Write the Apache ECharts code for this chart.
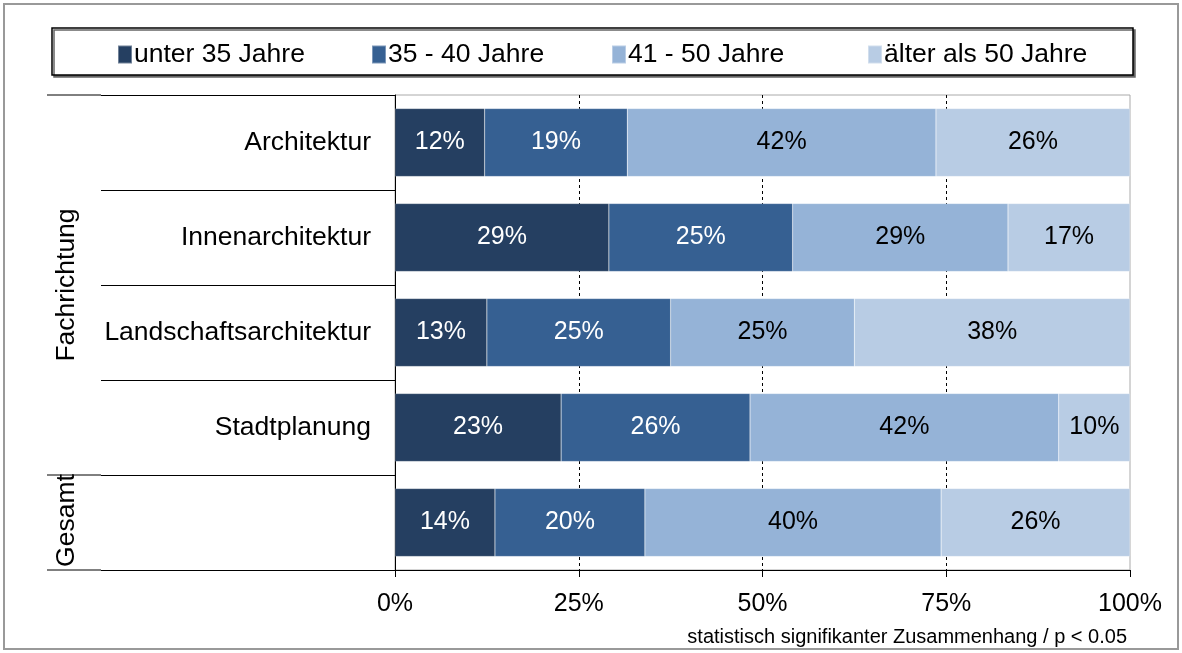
<!DOCTYPE html>
<html>
<head>
<meta charset="utf-8">
<script src="https://cdn.jsdelivr.net/npm/echarts@6/dist/echarts.min.js"></script>
<style>
  html, body { margin: 0; padding: 0; background: #fff; }
  #chart { width: 1182px; height: 653px; }
</style>
</head>
<body>
<div id="chart"></div>
<script>
// Daten
const categories = ['Architektur', 'Innenarchitektur', 'Landschaftsarchitektur', 'Stadtplanung', 'Gesamt'];
const seriesNames = ['unter 35 Jahre', '35 - 40 Jahre', '41 - 50 Jahre', 'älter als 50 Jahre'];
const unter35 = [12.2, 29.1, 12.5, 22.6, 13.6];
const von35bis40 = [19.4, 25.0, 25.0, 25.7, 20.4];
const von41bis50 = [42.0, 29.3, 25.0, 42.0, 40.3];
const ueber50 = [26.4, 16.6, 37.5, 9.7, 25.7];
const xTicks = [0, 25, 50, 75, 100];

const colors = ['#253F61', '#366092', '#95B3D7', '#B8CCE4'];
const labelColors = ['#fff', '#fff', '#000', '#000'];
const font = '"Liberation Sans", Arial, sans-serif';

// Layout des Plotbereichs
const gLeft = 395, gRight = 1130, gTop = 95, gBottom = 570;
const band = (gBottom - gTop) / categories.length;
// Legendenpositionen (wie in Excel, ungleichmäßig verteilt)
const legendLeft = [112, 366, 606, 862];

const chart = echarts.init(document.getElementById('chart'));

const values = [unter35, von35bis40, von41bis50, ueber50];
const series = values.map((arr, i) => ({
  name: seriesNames[i],
  type: 'bar',
  stack: 'total',
  barWidth: 68,
  data: arr,
  itemStyle: { color: colors[i], borderColor: 'rgba(255,255,255,0.35)', borderWidth: 0.5 },
  label: {
    show: true,
    position: 'inside',
    color: labelColors[i],
    fontSize: 25,
    fontFamily: font,
    formatter: p => Math.round(p.value) + '%'
  }
}));

const legends = seriesNames.map((name, i) => ({
  left: legendLeft[i],
  top: 36,
  itemWidth: 14,
  itemHeight: 18,
  icon: 'rect',
  textStyle: { fontSize: 26.5, color: '#000', fontFamily: font, padding: [0, 0, 0, -3] },
  data: [name]
}));

const option = {
  animation: false,
  textStyle: { fontFamily: font },
  legend: legends,
  grid: {
    left: gLeft,
    right: 1182 - gRight,
    top: gTop,
    bottom: 653 - gBottom,
    show: true,
    borderColor: '#aaa',
    borderWidth: 1
  },
  xAxis: {
    type: 'value',
    min: 0,
    max: 100,
    interval: 25,
    axisLine: { show: true, lineStyle: { color: '#000', width: 1 } },
    axisTick: { show: true, length: 7, lineStyle: { color: '#000' } },
    axisLabel: {
      fontSize: 25,
      color: '#000',
      margin: 22,
      fontFamily: font,
      formatter: v => xTicks.includes(v) ? v + '%' : ''
    },
    splitLine: {
      show: true,
      lineStyle: { color: ['transparent', '#000', '#000', '#000', 'transparent'], type: [3, 3], width: 1 }
    }
  },
  yAxis: {
    type: 'category',
    inverse: true,
    data: categories,
    axisLine: { show: true, lineStyle: { color: '#000', width: 1 } },
    axisTick: { show: true, length: 294, lineStyle: { color: '#000', width: 1 } },
    axisLabel: {
      fontSize: 26.5,
      color: '#000',
      margin: 24,
      fontFamily: font,
      formatter: v => v === 'Gesamt' ? '' : v
    }
  },
  series: series,
  graphic: [
    // Rahmen um das ganze Bild
    {
      type: 'rect',
      shape: { x: 4, y: 4, width: 1174, height: 645 },
      style: { fill: 'none', stroke: '#999', lineWidth: 2 },
      z: 0
    },
    // Legendenrahmen
    {
      type: 'rect',
      shape: { x: 52, y: 28, width: 1081, height: 47 },
      style: { fill: '#fff', stroke: '#000', lineWidth: 1.5, shadowColor: '#666', shadowOffsetX: 2, shadowOffsetY: 2, shadowBlur: 0 },
      z: -1
    },
    // Verlängerte Gruppenlinien
    { type: 'line', shape: { x1: 47, y1: gTop, x2: 101, y2: gTop }, style: { stroke: '#000', lineWidth: 1 } },
    { type: 'line', shape: { x1: 47, y1: gTop + band * 4, x2: 101, y2: gTop + band * 4 }, style: { stroke: '#000', lineWidth: 1 } },
    { type: 'line', shape: { x1: 47, y1: gBottom, x2: 101, y2: gBottom }, style: { stroke: '#000', lineWidth: 1 } },
    // Gruppenbeschriftungen
    {
      type: 'text',
      x: 67, y: gTop + band * 2,
      rotation: Math.PI / 2,
      style: { text: 'Fachrichtung', fontSize: 26.5, fontFamily: font, fill: '#000', align: 'center', verticalAlign: 'middle' }
    },
    {
      type: 'text',
      x: 67, y: gTop + band * 4.5 - 2,
      rotation: Math.PI / 2,
      style: { text: 'Gesamt', fontSize: 26.5, fontFamily: font, fill: '#000', align: 'center', verticalAlign: 'middle' }
    },
    // Fußnote
    {
      type: 'text',
      right: 55, top: 627,
      style: { text: 'statistisch signifikanter Zusammenhang / p < 0.05', fontSize: 20, fontFamily: font, fill: '#000' }
    }
  ]
};

chart.setOption(option);
</script>
</body>
</html>
